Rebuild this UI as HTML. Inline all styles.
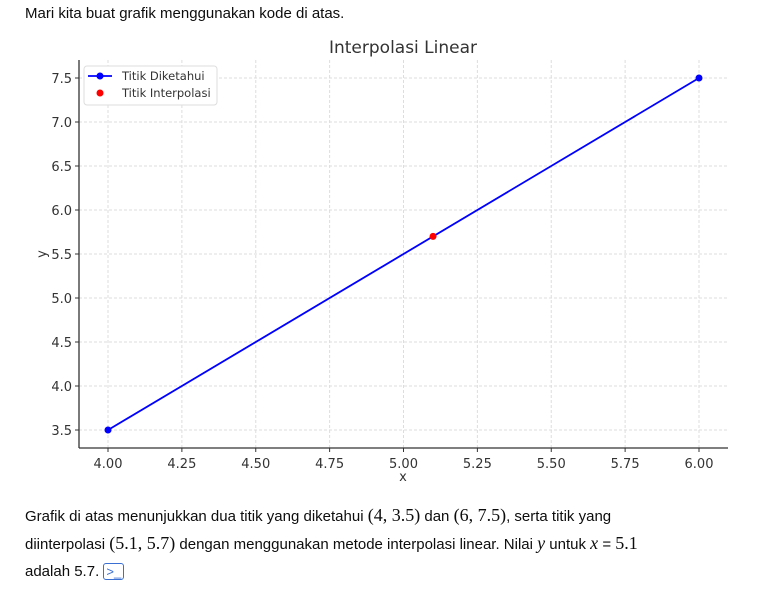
<!DOCTYPE html>
<html><head><meta charset="utf-8"><style>
body{margin:0;width:778px;height:593px;background:#fff;font-family:"Liberation Sans","DejaVu Sans",sans-serif;color:#0d0d0d;position:relative;overflow:hidden}
.p{position:absolute;left:25px;font-size:15px;margin:0}
</style></head><body>
<p class="p" style="top:5px">Mari kita buat grafik menggunakan kode di atas.</p>
<svg id="chart" width="778" height="500" style="position:absolute;left:0;top:0" font-family="DejaVu Sans, sans-serif"></svg>
<p class="p" style="top:505px">Grafik di atas menunjukkan dua titik yang diketahui <span style="font-family:'Liberation Serif',serif;font-size:18px">(4, 3.5)</span> dan <span style="font-family:'Liberation Serif',serif;font-size:18px">(6, 7.5)</span>, serta titik yang</p>
<p class="p" style="top:533px">diinterpolasi <span style="font-family:'Liberation Serif',serif;font-size:18px">(5.1, 5.7)</span> dengan menggunakan metode interpolasi linear. Nilai <i style="font-family:'Liberation Serif',serif;font-size:18px">y</i> untuk <i style="font-family:'Liberation Serif',serif;font-size:18px">x</i> = <span style="font-family:'Liberation Serif',serif;font-size:18px">5.1</span></p>
<p class="p" style="top:563px">adalah 5.7. <span style="color:#3b6fd1;font-size:13px;border:1px solid #3b6fd1;border-radius:3px;padding:0 2px">&gt;_</span></p>
<script>
const xTicks=[4.00,4.25,4.50,4.75,5.00,5.25,5.50,5.75,6.00];
const yTicks=[3.5,4.0,4.5,5.0,5.5,6.0,6.5,7.0,7.5];
const knownX=[4,6];
const knownY=[3.5,7.5];
const interpX=[5.1];
const interpY=[5.7];
const NS="http://www.w3.org/2000/svg";
const svg=document.getElementById('chart');
const L=79,R=728,T=60,B=448;
const sx=v=>108+(v-4)*295.5;
const sy=v=>430-(v-3.5)*88;
function mk(t,a,p){const e=document.createElementNS(NS,t);for(const k in a)e.setAttribute(k,a[k]);(p||svg).appendChild(e);return e;}
xTicks.forEach(v=>{
 const g=mk('line',{x1:sx(v),x2:sx(v),y1:T,y2:B,stroke:'#ddd','stroke-dasharray':'3,2'});
 
 
 mk('line',{x1:sx(v),x2:sx(v),y1:B,y2:B+4,stroke:'#333'});
 const t=mk('text',{x:sx(v),y:B+20,'text-anchor':'middle','font-size':13,fill:'#333'});
 t.textContent=v.toFixed(2);
 
 
});
yTicks.forEach(v=>{
 const g=mk('line',{x1:L,x2:R,y1:sy(v),y2:sy(v),stroke:'#ddd','stroke-dasharray':'3,2'});
 
 
 mk('line',{x1:L-4,x2:L,y1:sy(v),y2:sy(v),stroke:'#333'});
 const t=mk('text',{x:L-7,y:sy(v)+5,'text-anchor':'end','font-size':13,fill:'#333'});
 t.textContent=v.toFixed(1);
 
 
});
mk('line',{x1:L,x2:L,y1:T,y2:B,stroke:'#333','stroke-width':1.3});
mk('line',{x1:L,x2:R,y1:B,y2:B,stroke:'#333','stroke-width':1.3});
const line=mk('polyline',{points:knownX.map((x,i)=>sx(x)+','+sy(knownY[i])).join(' '),fill:'none',stroke:'#0000ff','stroke-width':1.8});


knownX.forEach((x,i)=>{const c=mk('circle',{cx:sx(x),cy:sy(knownY[i]),r:3.5,fill:'#0000ff'});
 
 });
interpX.forEach((x,i)=>{const c=mk('circle',{cx:sx(x),cy:sy(interpY[i]),r:3.5,fill:'#ff0000'});
 
 });
const title=mk('text',{x:403,y:53,'text-anchor':'middle','font-size':17,fill:'#333'});title.textContent='Interpolasi Linear';


const xl=mk('text',{x:403,y:481,'text-anchor':'middle','font-size':13,fill:'#333'});xl.textContent='x';


const yl=mk('text',{x:46,y:254,'text-anchor':'middle','font-size':13,fill:'#333',transform:'rotate(-90 46 254)'});yl.textContent='y';


const lg=mk('g',{});


mk('rect',{x:84,y:66,width:133,height:39,rx:3,fill:'#fff',stroke:'#ddd'},lg);
mk('line',{x1:88,x2:112,y1:76,y2:76,stroke:'#0000ff','stroke-width':1.8},lg);
mk('circle',{cx:100,cy:76,r:3.5,fill:'#0000ff'},lg);
mk('circle',{cx:100,cy:93,r:3.5,fill:'#ff0000'},lg);
const l1=mk('text',{x:122,y:80,'font-size':11.5,fill:'#333'},lg);l1.textContent='Titik Diketahui';
const l2=mk('text',{x:122,y:97,'font-size':11.5,fill:'#333'},lg);l2.textContent='Titik Interpolasi';
</script>
</body></html>
